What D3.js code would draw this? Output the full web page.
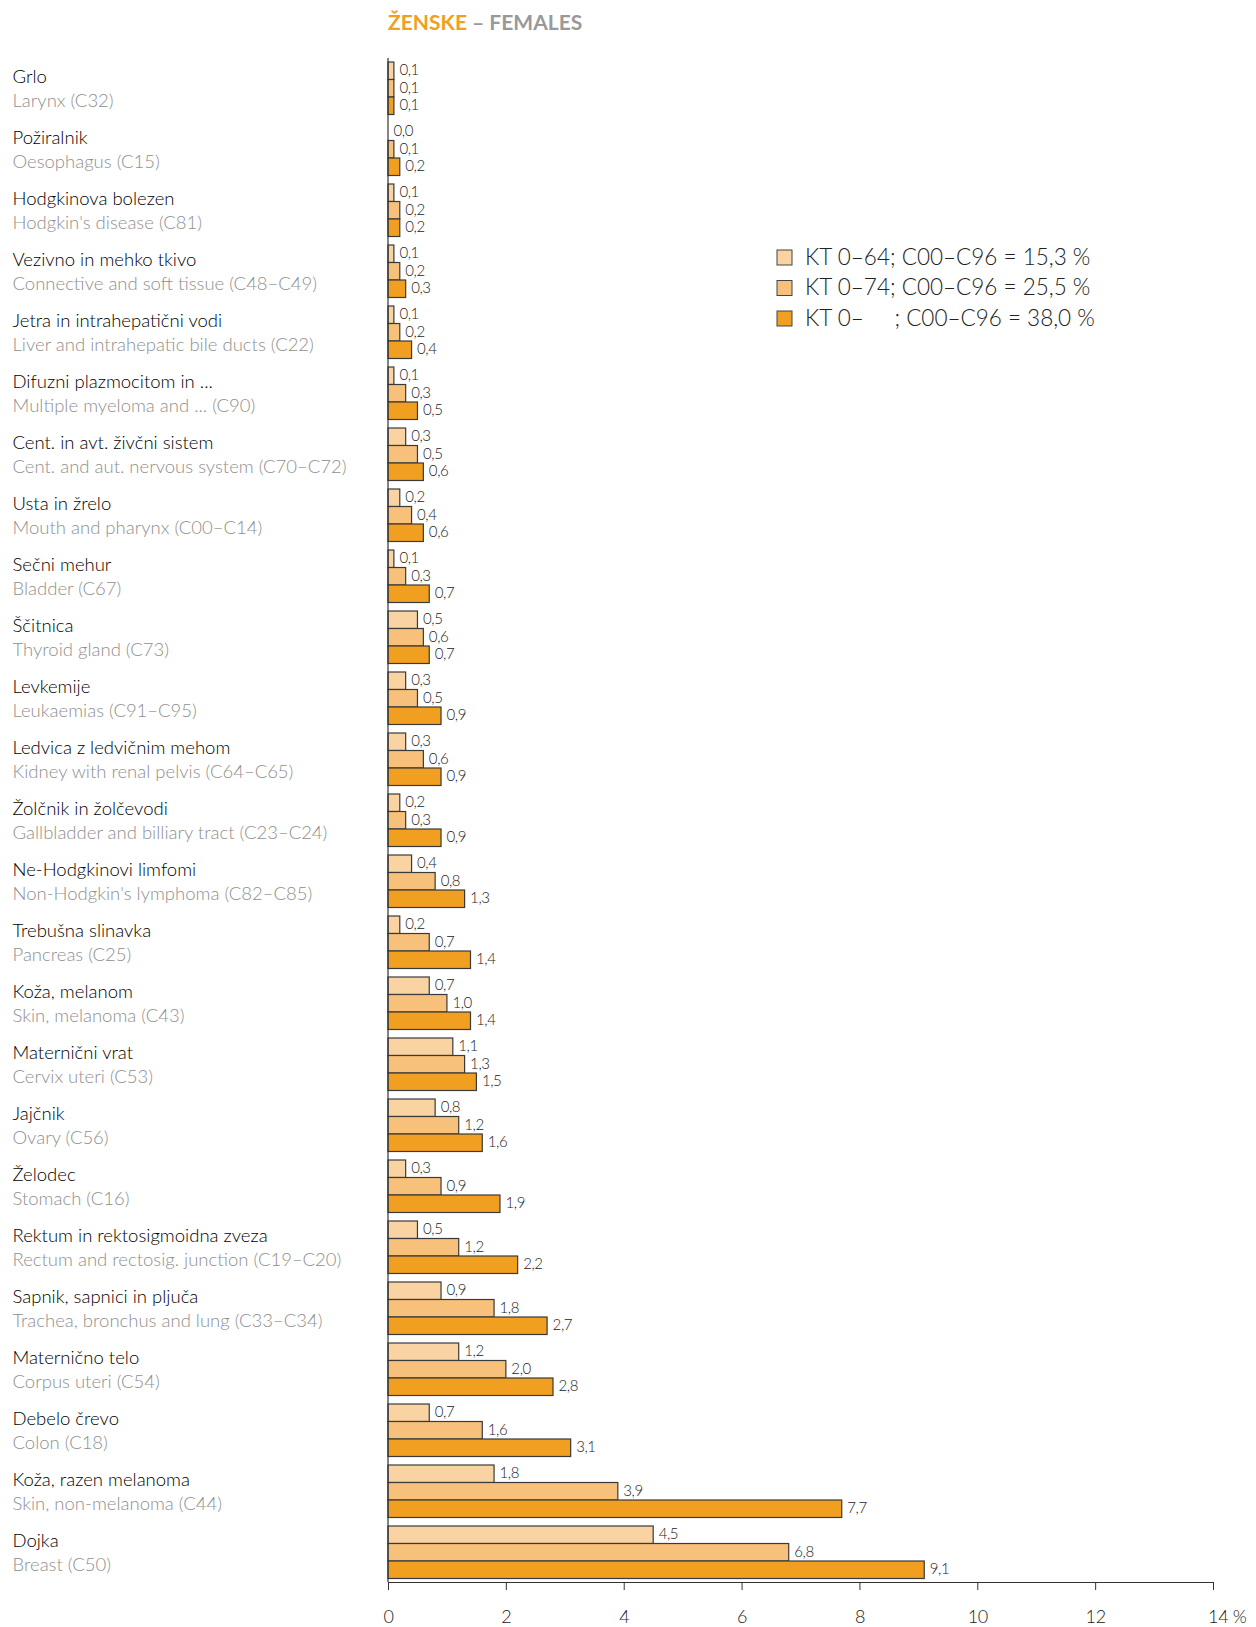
<!DOCTYPE html>
<html>
<head>
<meta charset="utf-8">
<script src="https://cdn.jsdelivr.net/npm/d3@7"></script>
<style>
  body { margin: 0; background: #fff; }
  svg { display: block; }
  .lab { font-family: Lato, "Open Sans", sans-serif; }
  .num { font-family: Lato, "Open Sans", sans-serif; font-weight: 300; letter-spacing: -0.4px; }
</style>
</head>
<body>
<script>
// categories, top to bottom
var namesSl = ["Grlo", "Požiralnik", "Hodgkinova bolezen", "Vezivno in mehko tkivo",
  "Jetra in intrahepatični vodi", "Difuzni plazmocitom in ...", "Cent. in avt. živčni sistem",
  "Usta in žrelo", "Sečni mehur", "Ščitnica", "Levkemije", "Ledvica z ledvičnim mehom",
  "Žolčnik in žolčevodi", "Ne-Hodgkinovi limfomi", "Trebušna slinavka", "Koža, melanom",
  "Maternični vrat", "Jajčnik", "Želodec", "Rektum in rektosigmoidna zveza",
  "Sapnik, sapnici in pljuča", "Maternično telo", "Debelo črevo", "Koža, razen melanoma", "Dojka"]
var namesEn = ["Larynx (C32)", "Oesophagus (C15)", "Hodgkin's disease (C81)",
  "Connective and soft tissue (C48–C49)", "Liver and intrahepatic bile ducts (C22)",
  "Multiple myeloma and ... (C90)", "Cent. and aut. nervous system (C70–C72)",
  "Mouth and pharynx (C00–C14)", "Bladder (C67)", "Thyroid gland (C73)", "Leukaemias (C91–C95)",
  "Kidney with renal pelvis (C64–C65)", "Gallbladder and billiary tract (C23–C24)",
  "Non-Hodgkin's lymphoma (C82–C85)", "Pancreas (C25)", "Skin, melanoma (C43)", "Cervix uteri (C53)",
  "Ovary (C56)", "Stomach (C16)", "Rectum and rectosig. junction (C19–C20)",
  "Trachea, bronchus and lung (C33–C34)", "Corpus uteri (C54)", "Colon (C18)",
  "Skin, non-melanoma (C44)", "Breast (C50)"]

// cumulative risk, %
var kt064 = [0.1, 0.0, 0.1, 0.1, 0.1, 0.1, 0.3, 0.2, 0.1, 0.5, 0.3, 0.3, 0.2, 0.4, 0.2, 0.7, 1.1, 0.8, 0.3, 0.5, 0.9, 1.2, 0.7, 1.8, 4.5]
var kt074 = [0.1, 0.1, 0.2, 0.2, 0.2, 0.3, 0.5, 0.4, 0.3, 0.6, 0.5, 0.6, 0.3, 0.8, 0.7, 1.0, 1.3, 1.2, 0.9, 1.2, 1.8, 2.0, 1.6, 3.9, 6.8]
var ktAll = [0.1, 0.2, 0.2, 0.3, 0.4, 0.5, 0.6, 0.6, 0.7, 0.7, 0.9, 0.9, 0.9, 1.3, 1.4, 1.4, 1.5, 1.6, 1.9, 2.2, 2.7, 2.8, 3.1, 7.7, 9.1]

var seriesKeys = ["kt064", "kt074", "ktAll"]
var seriesLabels = ["KT 0–64; C00–C96 = 15,3 %", "KT 0–74; C00–C96 = 25,5 %", "KT 0–     ; C00–C96 = 38,0 %"]
var seriesColors = ["#fad3a3", "#f7c07b", "#f09f21"]
var tickValues = [0, 2, 4, 6, 8, 10, 12, 14]

var W = 1256, H = 1627
var fmt = function(v) { return d3.format(".1f")(v).replace(".", ",") }

var rows = namesSl.map(function(n, i) {
  return { sl: n, en: namesEn[i], vals: [kt064[i], kt074[i], ktAll[i]] }
})

var svg = d3.select("body").append("svg").attr("width", W).attr("height", H)

var x = d3.scaleLinear().domain([0, 14]).range([388, 1213])
var y = d3.scaleBand().domain(d3.range(rows.length)).range([62, 1578.5]).paddingInner(8.5 / 61).paddingOuter(0)
var ySub = d3.scaleBand().domain(seriesKeys).range([0, y.bandwidth()])

// title
var title = svg.append("text").attr("class", "lab")
  .attr("x", 388).attr("y", 30)
  .style("font-size", "21px").style("font-weight", "bold")
title.append("tspan").attr("fill", "#f09f21").text("ŽENSKE")
title.append("tspan").attr("fill", "#999").text(" – FEMALES")

// category labels
var lbl = svg.append("g").selectAll("g").data(rows).join("g")
  .attr("transform", function(d, i) { return "translate(12.5," + y(i) + ")" })
lbl.append("text").attr("class", "lab").attr("y", 20.5)
  .style("font-size", "18.5px").style("font-weight", 300).attr("fill", "#000").text(function(d) { return d.sl })
lbl.append("text").attr("class", "lab").attr("y", 45)
  .style("font-size", "18.5px").style("font-weight", 300).attr("fill", "#8f8f8f").text(function(d) { return d.en })

// bars
var grp = svg.append("g").selectAll("g").data(rows).join("g")
  .attr("transform", function(d, i) { return "translate(0," + y(i) + ")" })

grp.selectAll("rect").data(function(d) { return d.vals }).join("rect")
  .attr("x", x(0))
  .attr("y", function(v, j) { return ySub(seriesKeys[j]) })
  .attr("width", function(v) { return x(v) - x(0) })
  .attr("height", ySub.bandwidth())
  .attr("fill", function(v, j) { return seriesColors[j] })
  .attr("stroke", "#3a3a3a").attr("stroke-width", 1.2)

grp.selectAll("text").data(function(d) { return d.vals }).join("text")
  .attr("class", "num")
  .attr("x", function(v) { return x(v) + 5.5 })
  .attr("y", function(v, j) { return ySub(seriesKeys[j]) + ySub.bandwidth() / 2 + 4.5 })
  .style("font-size", "15px").attr("fill", "#222")
  .text(function(v) { return fmt(v) })

// axes
svg.append("line").attr("x1", x(0)).attr("x2", x(0)).attr("y1", 58).attr("y2", 1582)
  .attr("stroke", "#333").attr("stroke-width", 1.2)

var xAxis = svg.append("g").attr("transform", "translate(0,1582)")
  .call(d3.axisBottom(x).tickValues(tickValues).tickSize(8).tickSizeOuter(0)
    .tickFormat(function(d) { return d === 14 ? "14 %" : d }))
xAxis.select(".domain").attr("stroke", "#333").attr("stroke-width", 1.2)
xAxis.selectAll(".tick line").attr("stroke", "#333")
xAxis.selectAll(".tick text").attr("class", "num").attr("y", 35).attr("dy", "0.35em")
  .style("font-size", "18px").attr("fill", "#222")
xAxis.select(".tick:last-of-type text").attr("text-anchor", "start").attr("dx", "-0.3em")

// legend
var leg = svg.append("g").attr("transform", "translate(777,250)")
var li = leg.selectAll("g").data(seriesLabels).join("g")
  .attr("transform", function(d, i) { return "translate(0," + i * 30.5 + ")" })
li.append("rect").attr("width", 15).attr("height", 15)
  .attr("fill", function(d, i) { return seriesColors[i] }).attr("stroke", "#444")
li.append("text").attr("class", "lab").attr("x", 28).attr("y", 14.5)
  .style("font-size", "22.5px").style("font-weight", 300).style("white-space", "pre").attr("fill", "#222")
  .text(function(d) { return d })
</script>
</body>
</html>
